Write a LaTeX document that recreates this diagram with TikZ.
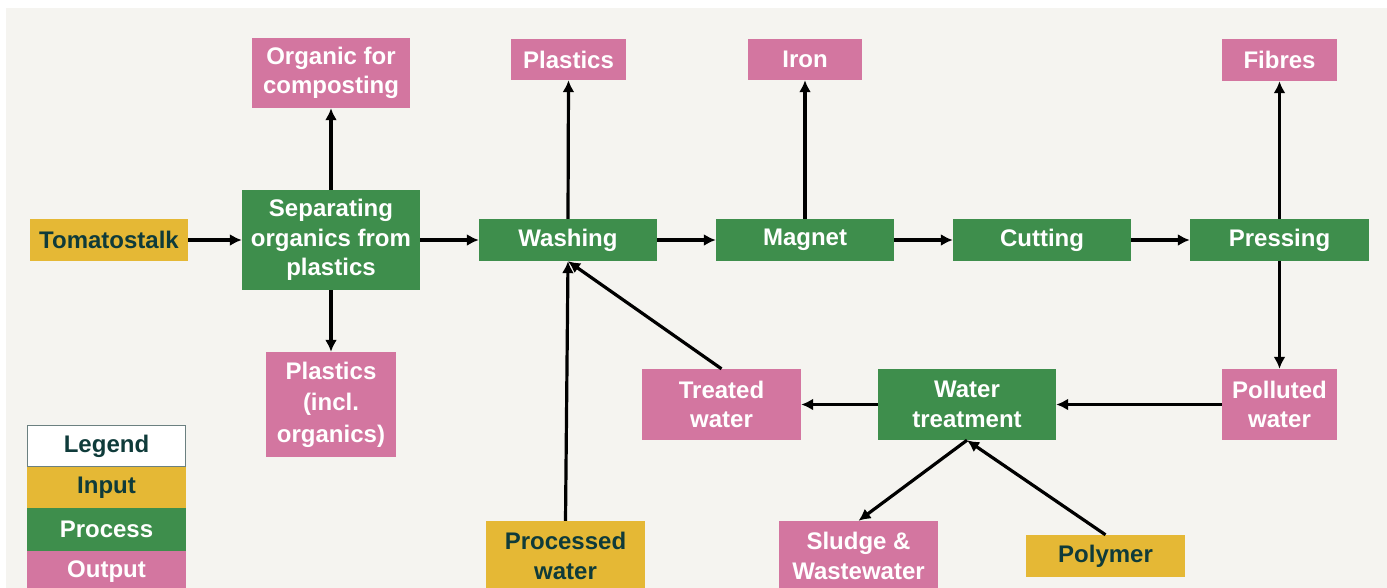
\documentclass[tikz,border=0pt]{standalone}
\usepackage{fontspec}
\setmainfont{Liberation Sans}
\usetikzlibrary{arrows.meta}
\definecolor{bgc}{HTML}{F5F4F0}
\definecolor{procc}{HTML}{3E8E4C}
\definecolor{outc}{HTML}{D376A0}
\definecolor{inc}{HTML}{E5B835}
\definecolor{darktxt}{HTML}{0F3B3A}
\definecolor{legbd}{HTML}{6B8080}
\begin{document}
\begin{tikzpicture}[x=1pt,y=-1pt,
  box/.style={inner sep=0pt, align=center, font=\fontsize{24}{29.5}\selectfont\bfseries},
  proc/.style={box, fill=procc, text=white},
  outp/.style={box, fill=outc, text=white},
  inp/.style={box, fill=inc, text=darktxt},
  legbox/.style={box, fill=white, draw=legbd, line width=1.2pt, text=darktxt},
  arr/.style={line width=3.2pt, -{Latex[length=12pt,width=12pt]}, black}]
\useasboundingbox (0,0) rectangle (1387,587);
\clip (0,0) rectangle (1387,587);
\fill[white] (0,0) rectangle (1387,587);
\fill[bgc] (6,8) rectangle (1387,600);

% main row
\node[inp, minimum width=158pt, minimum height=42pt] (tomato) at (109,240) {Tomatostalk};
\node[proc, minimum width=178pt, minimum height=100pt] (sep) at (331,240) {Separating\\organics from\\plastics};
\node[outp, minimum width=158pt, minimum height=70pt] (organic) at (331,73) {Organic for\\composting};
\node[outp, minimum width=130pt, minimum height=105pt, font=\fontsize{24}{31.5}\selectfont\bfseries] (plast1) at (331,404.5) {Plastics\\(incl.\\organics)};
\node[proc, minimum width=178pt, minimum height=42pt] (wash) at (568,240) {Washing};
\node[outp, minimum width=115pt, minimum height=41pt] (plast2) at (568.5,59.5) {Plastics};
\node[proc, minimum width=178pt, minimum height=42pt] (magnet) at (805,240) {Magnet};
\node[outp, minimum width=114pt, minimum height=41pt] (iron) at (805,59.5) {Iron};
\node[proc, minimum width=178pt, minimum height=42pt] (cut) at (1042,240) {Cutting};
\node[proc, minimum width=179pt, minimum height=42pt] (press) at (1279.5,240) {Pressing};
\node[outp, minimum width=115pt, minimum height=42pt] (fibres) at (1279.5,60) {Fibres};

% water loop
\node[outp, minimum width=115pt, minimum height=71pt] (polluted) at (1279.5,404.5) {Polluted\\water};
\node[proc, minimum width=178pt, minimum height=71pt] (wt) at (967,404.5) {Water\\treatment};
\node[outp, minimum width=159pt, minimum height=71pt] (treated) at (721.5,404.5) {Treated\\water};
\node[inp, minimum width=159pt, minimum height=70pt] (processed) at (565.5,556) {Processed\\water};
\node[outp, minimum width=159pt, minimum height=70pt] (sludge) at (858.5,556) {Sludge \&\\Wastewater};
\node[inp, minimum width=159pt, minimum height=42pt] (polymer) at (1105.5,556) {Polymer};

% legend
\node[legbox, minimum width=158pt, minimum height=41pt] (leg) at (106.5,446) {Legend};
\node[inp, minimum width=159pt, minimum height=41pt] (legin) at (106.5,487.5) {Input};
\node[proc, minimum width=159pt, minimum height=43pt] (legproc) at (106.5,529.5) {Process};
\node[outp, minimum width=159pt, minimum height=42pt] (legout) at (106.5,572) {Output};

% connectors
\draw[arr] (tomato) -- (sep);
\draw[arr] (sep.north) -- (organic.south);
\draw[arr] (sep.south) -- (plast1.north);
\draw[arr] (sep) -- (wash);
\draw[arr] (wash.north) -- (plast2.south);
\draw[arr] (wash) -- (magnet);
\draw[arr] (magnet.north) -- (iron.south);
\draw[arr] (magnet) -- (cut);
\draw[arr] (cut) -- (press);
\draw[arr] (press.north) -- (fibres.south);
\draw[arr] (press.south) -- (polluted.north);
\draw[arr] (polluted) -- (wt);
\draw[arr] (wt) -- (treated);
\draw[arr] (treated.north) -- (wash.south);
\draw[arr] (processed.north) -- (wash.south);
\draw[arr] (wt.south) -- (sludge.north);
\draw[arr] (polymer.north) -- (wt.south);
\end{tikzpicture}
\end{document}
